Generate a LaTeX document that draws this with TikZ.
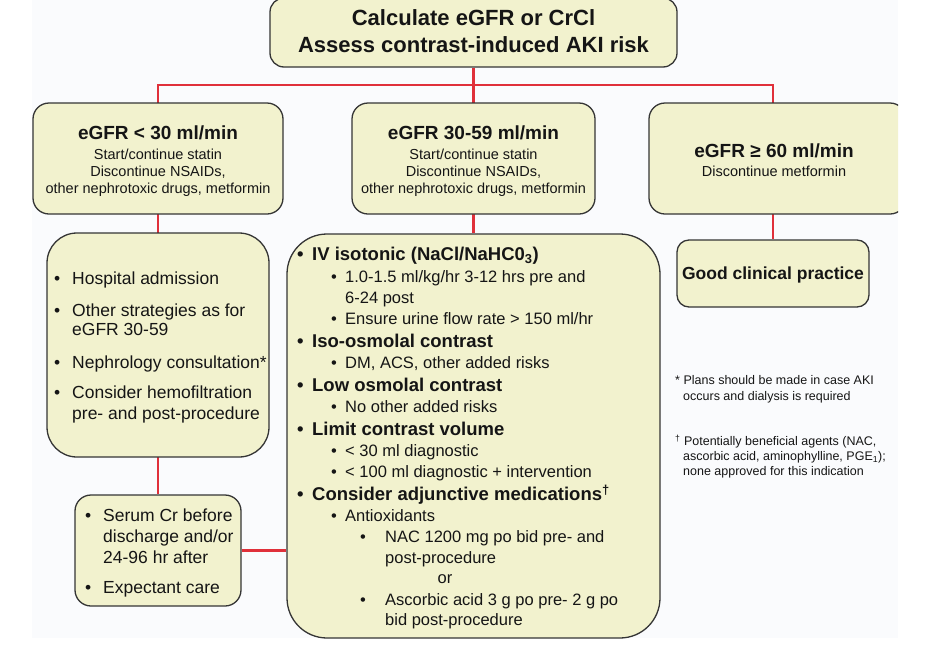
\documentclass[tikz,border=0pt]{standalone}
\usepackage{fontspec}
\setmainfont{Liberation Sans}
\usetikzlibrary{backgrounds}
\definecolor{boxfill}{HTML}{F2F2CE}
\definecolor{boxline}{HTML}{353535}
\definecolor{linkred}{HTML}{E0303A}
\definecolor{pagebg}{HTML}{FAFBFD}
\definecolor{ink}{HTML}{151515}
\newcommand{\bul}[1]{\makebox[#1pt][l]{•}}
\begin{document}
\begin{tikzpicture}[x=1pt,y=-1pt,
  box/.style={draw=boxline, fill=boxfill, line width=1.3pt, inner sep=0pt},
  link/.style={draw=linkred, line width=2.4pt},
  txt/.style={inner sep=0pt, text=ink},
  ttl/.style={txt, anchor=base, font=\fontsize{22}{26}\selectfont\bfseries},
  hdr/.style={txt, anchor=base, font=\fontsize{19}{22}\selectfont\bfseries},
  sub/.style={txt, anchor=base, font=\fontsize{14.5}{17}\selectfont},
  lft/.style={txt, anchor=base west, font=\fontsize{17.5}{20}\selectfont},
  lvla/.style={txt, anchor=base west, font=\fontsize{18.5}{21}\selectfont\bfseries},
  lvlb/.style={txt, anchor=base west, font=\fontsize{16.5}{20}\selectfont},
  fnt/.style={txt, anchor=base west, font=\fontsize{12.5}{15}\selectfont}]
\useasboundingbox (0,0) rectangle (930,662);

% boxes
\node[box, rounded corners=14pt, minimum width=407pt, minimum height=69pt] (top) at (473.5,32.5) {};
\node[box, rounded corners=16pt, minimum width=250pt, minimum height=111pt] (b1) at (158,158.5) {};
\node[box, rounded corners=16pt, minimum width=243pt, minimum height=111pt] (b2) at (473.5,158.5) {};
\begin{scope}
  \clip (0,-5) rectangle (898,700);
  \node[box, rounded corners=16pt, minimum width=257pt, minimum height=111pt] (b3) at (777.5,158.5) {};
\end{scope}
\node[box, rounded corners=30pt, minimum width=222pt, minimum height=224pt] (c1) at (158,345) {};
\node[box, rounded corners=40pt, minimum width=373pt, minimum height=404pt] (c2) at (473.5,436) {};
\node[box, rounded corners=12pt, minimum width=192pt, minimum height=67pt] (c3) at (773,273.5) {};
\node[box, rounded corners=16pt, minimum width=166pt, minimum height=111pt] (d1) at (158,550.5) {};

% connectors (behind the boxes)
\coordinate (jc) at (473.5,85);
\begin{scope}[on background layer]
  \fill[pagebg] (32,0) rectangle (898,638);
  \draw[link] (top.south) -- (c2.north);
  \draw[link] (b1.north) |- (jc) -| (c3.north);
  \draw[link] (b1.north) -- (d1.north);
  \draw[link] (d1.east) -- (d1.east -| c2.west);
\end{scope}

% top box
\node[ttl] (t1) at (473.5,25.8) {Calculate eGFR or CrCl};
\node[ttl] (t2) at (473.5,52.8) {Assess contrast-induced AKI risk};

% row boxes
\node[hdr] (h1) at (158,139.8) {eGFR < 30 ml/min};
\node[sub] (h1a) at (158,159.2) {Start/continue statin};
\node[sub] (h1b) at (158,176.7) {Discontinue NSAIDs,};
\node[sub] (h1c) at (158,193.7) {other nephrotoxic drugs, metformin};
\node[hdr] (h2) at (473.5,139.8) {eGFR 30-59 ml/min};
\node[sub] (h2a) at (473.5,159.2) {Start/continue statin};
\node[sub] (h2b) at (473.5,176.7) {Discontinue NSAIDs,};
\node[sub] (h2c) at (473.5,193.7) {other nephrotoxic drugs, metformin};
\node[hdr] (h3) at (774,157.8) {eGFR ≥ 60 ml/min};
\node[sub] (h3a) at (774,176.2) {Discontinue metformin};

% left column box
\node[lft] (l1) at (54,284.3) {\bul{18}Hospital admission};
\node[lft] (l2) at (54,316.3) {\bul{18}Other strategies as for};
\node[lft] (l2b) at (72,335.3) {eGFR 30-59};
\node[lft] (l3) at (54,368.3) {\bul{18}Nephrology consultation*};
\node[lft] (l4) at (54,398.3) {\bul{18}Consider hemofiltration};
\node[lft] (l4b) at (72,419.3) {pre- and post-procedure};

% bottom left box
\node[lft] (s1) at (85,521.3) {\bul{18}Serum Cr before};
\node[lft] (s1b) at (103,542.3) {discharge and/or};
\node[lft] (s1c) at (103,563.3) {24-96 hr after};
\node[lft] (s2) at (85,593.3) {\bul{18}Expectant care};

% big box
\node[lvla] (m1) at (297,260.6) {\bul{15}IV isotonic (NaCl/NaHC0\textsubscript{3})};
\node[lvlb] (m1a) at (331,282.9) {\bul{14}1.0-1.5 ml/kg/hr 3-12 hrs pre and};
\node[lvlb] (m1b) at (345,303.9) {6-24 post};
\node[lvlb] (m1c) at (331,324.9) {\bul{14}Ensure urine flow rate > 150 ml/hr};
\node[lvla] (m2) at (297,347.6) {\bul{15}Iso-osmolal contrast};
\node[lvlb] (m2a) at (331,368.9) {\bul{14}DM, ACS, other added risks};
\node[lvla] (m3) at (297,391.6) {\bul{15}Low osmolal contrast};
\node[lvlb] (m3a) at (331,412.9) {\bul{14}No other added risks};
\node[lvla] (m4) at (297,435.6) {\bul{15}Limit contrast volume};
\node[lvlb] (m4a) at (331,456.9) {\bul{14}< 30 ml diagnostic};
\node[lvlb] (m4b) at (331,477.9) {\bul{14}< 100 ml diagnostic + intervention};
\node[lvla] (m5) at (297,500.6) {\bul{15}Consider adjunctive medications\textsuperscript{†}};
\node[lvlb] (m5a) at (331,521.9) {\bul{14}Antioxidants};
\node[lvlb] (m5b) at (360,542.9) {\bul{25}NAC 1200 mg po bid pre- and};
\node[lvlb] (m5c) at (385,563.4) {post-procedure};
\node[txt, anchor=base, font=\fontsize{16.5}{20}\selectfont] (m5d) at (445,583.9) {or};
\node[lvlb] (m5e) at (360,605.4) {\bul{25}Ascorbic acid 3 g po pre- 2 g po};
\node[lvlb] (m5f) at (385,625.9) {bid post-procedure};

% good clinical practice
\node[txt, anchor=base, font=\fontsize{17.5}{20}\selectfont\bfseries] (g1) at (773,279.3) {Good clinical practice};

% footnotes
\node[fnt] (f1) at (675,384.5) {* Plans should be made in case AKI};
\node[fnt] (f1b) at (683,400.5) {occurs and dialysis is required};
\node[fnt] (f2) at (675,445.5) {\textsuperscript{†} Potentially beneficial agents (NAC,};
\node[fnt] (f2b) at (683,460.5) {ascorbic acid, aminophylline, PGE\textsubscript{1});};
\node[fnt] (f2c) at (683,475.5) {none approved for this indication};
\end{tikzpicture}
\end{document}
